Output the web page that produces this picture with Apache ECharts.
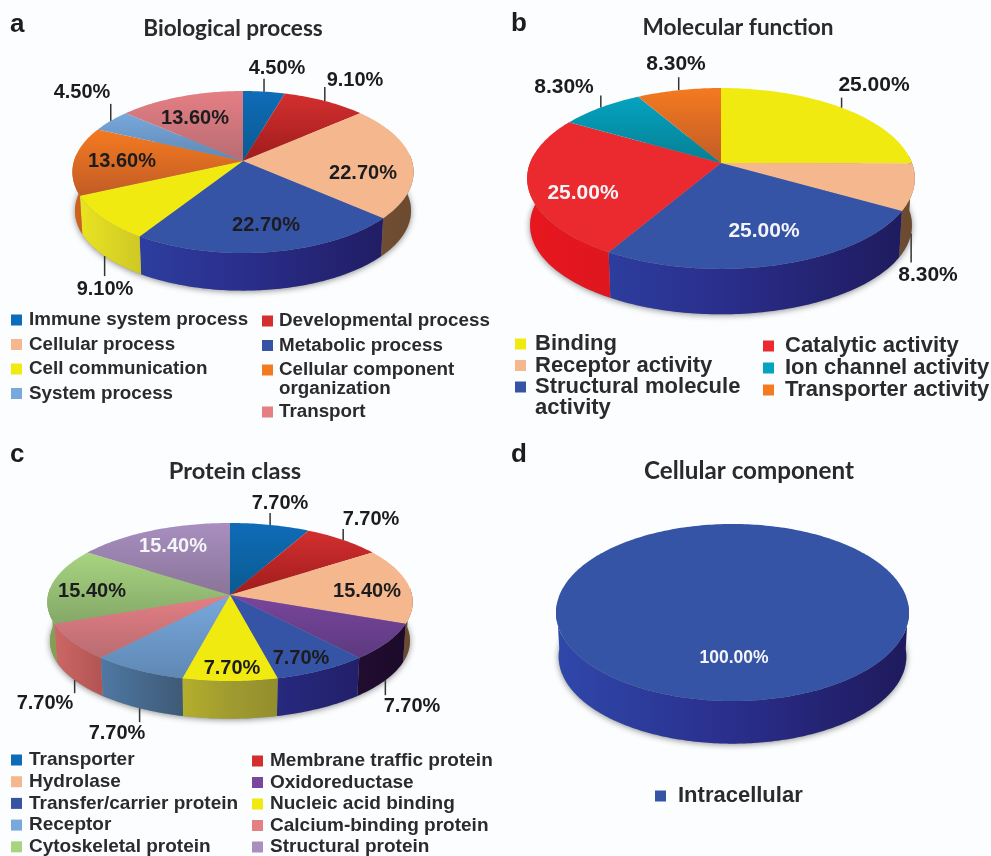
<!DOCTYPE html>
<html>
<head>
<meta charset="utf-8">
<title>Gene ontology pies</title>
<script src="https://cdn.jsdelivr.net/npm/echarts@6/dist/echarts.min.js"></script>
<style>
html,body{margin:0;padding:0;background:#fcfdfe;}
#main{width:991px;height:856px;}
</style>
</head>
<body>
<div id="main"></div>
<script type="text/javascript">
// values, clockwise from 12 o'clock
var bioNames = ['Immune system process','Developmental process','Cellular process','Metabolic process','Cell communication','Cellular component organization','System process','Transport'];
var bioValues = [4.5,9.1,22.7,22.7,9.1,13.6,4.5,13.6];
var molNames = ['Binding','Receptor activity','Structural molecule activity','Catalytic activity','Ion channel activity','Transporter activity'];
var molValues = [25,8.3,25,25,8.3,8.3];
var protNames = ['Transporter','Membrane traffic protein','Hydrolase','Oxidoreductase','Transfer/carrier protein','Nucleic acid binding','Receptor','Calcium-binding protein','Cytoskeletal protein','Structural protein'];
var protValues = [7.7,7.7,15.4,7.7,7.7,7.7,7.7,7.7,15.4,15.4];
var cellNames = ['Intracellular'];
var cellValues = [100];

// top light, top dark, wall left, wall middle, wall right
var shades = {
    ocean:['#0f6cb8','#0a5a90','#0a5a90','#084a78','#063a60'],
    brick:['#d32f2f','#a01c1c','#a01c1c','#801616','#601010'],
    peach:['#f5b88e','#f5b88e','#c89b70','#8a6040','#6b4a30'],
    blue:['#3654a6','#3654a6','#2f48aa','#2a2e8c','#1f1a5c'],
    yellow:['#f0ea10','#f0ea10','#ece620','#a09b30','#6b6820'],
    orange:['#f47a20','#c25c26','#d0601c','#b0501c','#804010'],
    sky:['#78a8dc','#5f88b4','#5a8cc0','#34485c','#2a3a4a'],
    pink:['#e47f84','#b86c72','#d06a68','#6a2020','#4a1010'],
    red:['#ea2a2e','#ea2a2e','#e8161f','#d01820','#a01018'],
    teal:['#05a3c0','#067f94','#05a3c0','#067f94','#045a6a'],
    green:['#a8d480','#84a868','#84a050','#608040','#406030'],
    lilac:['#a88fc0','#8a7498','#8a7498','#6a5878','#4a3a58'],
    violet:['#7a459c','#5c3a80','#3a2060','#2a1440','#1c0a2a']
};
var bioShades = ['ocean','brick','peach','blue','yellow','orange','sky','pink'];
var molShades = ['yellow','peach','blue','red','teal','orange'];
var protShades = ['ocean','brick','peach','violet','blue','yellow','sky','pink','green','lilac'];
var cellShades = ['blue'];

// geometry of each tilted disc: k is the perspective strength
var panels = [
    {names:bioNames, values:bioValues, shades:bioShades, cx:243, cy:161, R:169, S:79.5, k:0.136, depth:39, font:20,
     labels:[[277,68],[355,80],[363,173],[266,225],[105,289],[122,161],[82,92],[195,118]],
     leaders:[-13,-14,0,0,20,0,-17,0], white:[]},
    {names:molNames, values:molValues, shades:molShades, cx:721, cy:163, R:191, S:87.8, k:0.171, depth:47, font:21,
     labels:[[874,85],[928,275],[764,231],[583,193],[564,87],[676,64]],
     leaders:[-10,29,0,0,-12,-13], white:[2,3]},
    {names:protNames, values:protValues, shades:protShades, cx:230, cy:595, R:182, S:78.4, k:0.0886, depth:39, font:20,
     labels:[[280,503],[371,519],[367,591],[412,706],[301,658],[232,668],[117,733],[45,703],[92,591],[173,546]],
     leaders:[-12,-11,0,15,0,0,14,13,0,0], white:[9]},
    {names:cellNames, values:cellValues, shades:cellShades, cx:732.5, cy:612.5, R:176.5, S:88.5, k:0, depth:44, font:17.5,
     labels:[[734,658]], leaders:[0], white:[0]}
];
var BASE_SCALE = 0.985;

var wrapped = {
    'Cellular component organization':['Cellular component','organization'],
    'Structural molecule activity':['Structural molecule','activity']
};

function rimPoint(p, deg, lower){
    var a = deg*Math.PI/180;
    var u = Math.sin(a), v = -Math.cos(a);
    var w = 1-p.k*v;
    var s = lower ? BASE_SCALE : 1;
    return [p.cx+p.R*s*u/w, p.cy+p.S*s*v/w+(lower ? p.depth : 0)];
}
function arcPoints(p, from, to, lower){
    var pts = [], n = Math.max(2, Math.ceil(Math.abs(to-from)));
    for(var i=0;i<=n;i++){
        pts.push(rimPoint(p, from+(to-from)*i/n, lower));
    }
    return pts;
}

function makeRender(p, idx, startDeg, total){
    return function(params, api){
        var endDeg = startDeg+api.value(0)/total*360;
        var midDeg = (startDeg+endDeg)/2;
        var sh = shades[p.shades[idx]];
        var kids = [];
        // soft shadow under the first slice's disc
        if(idx===0){
            kids.push({type:'polygon', z2:0, shape:{points:arcPoints(p,0,360,true)},
                style:{fill:'#999', shadowBlur:6, shadowColor:'rgba(0,0,0,0.45)', shadowOffsetY:1}});
        }
        // wall, only the part facing the viewer
        var w0 = Math.max(startDeg,85), w1 = Math.min(endDeg,275);
        if(w1>w0){
            kids.push({type:'polygon', z2:1,
                shape:{points:arcPoints(p,w0,w1,false).concat(arcPoints(p,w1,w0,true))},
                style:{fill:{type:'linear',x:p.cx-p.R,y:0,x2:p.cx+p.R,y2:0,global:true,
                    colorStops:[{offset:0,color:sh[2]},{offset:0.5,color:sh[3]},{offset:1,color:sh[4]}]}}});
        }
        // top face
        var topPts = arcPoints(p,startDeg,endDeg,false);
        if(p.values.length>1){ topPts.push([p.cx,p.cy]); }
        kids.push({type:'polygon', z2:2, shape:{points:topPts},
            style:{fill:{type:'linear',x:0,y:0,x2:0,y2:1,
                colorStops:[{offset:0,color:sh[0]},{offset:1,color:sh[1]}]}}});
        // leader line from the rim (lower rim when in front)
        if(p.leaders[idx]){
            var front = p.leaders[idx]>0;
            var st = rimPoint(p,midDeg,front);
            kids.push({type:'line', z2:3, shape:{x1:st[0],y1:st[1],x2:st[0],y2:st[1]+p.leaders[idx]},
                style:{stroke:'#333',lineWidth:1.5}});
        }
        var lab = p.labels[idx];
        kids.push({type:'text', z2:5, x:lab[0], y:lab[1],
            style:{text:api.value(0).toFixed(2)+'%', align:'center', verticalAlign:'middle',
                fill:p.white.indexOf(idx)>=0 ? '#f4f5f8' : '#1c1c1e',
                font:'bold '+p.font+'px "Liberation Sans"'}});
        return {type:'group', children:kids};
    };
}

var series = [];
panels.forEach(function(p){
    var total = p.values.reduce(function(a,b){return a+b;},0);
    var acc = 0;
    p.values.forEach(function(val, i){
        series.push({
            type:'custom', name:p.names[i], coordinateSystem:'none', silent:true,
            itemStyle:{color:shades[p.shades[i]][0]},
            data:[[val]],
            renderItem:makeRender(p,i,acc/total*360,total)
        });
        acc += val;
    });
});

function legendCol(names, x, firstY, pitch, size, gap){
    var lh = Math.round(size)+2;
    return {
        data:names, orient:'vertical', left:x, top:firstY-lh/2, height:160, padding:0,
        itemWidth:11, itemHeight:11, itemGap:pitch-lh, selectedMode:false, icon:'rect',
        formatter:function(n){ return wrapped[n] ? wrapped[n][0] : n; },
        textStyle:{color:'#2b2b2e', fontWeight:'bold', fontFamily:'Liberation Sans', fontSize:size, lineHeight:lh, padding:[0,0,0,gap]}
    };
}

function heading(text, x, y, size){
    return {text:text, left:x, top:y, textAlign:'center', padding:0,
        textStyle:{fontFamily:'Lato', fontWeight:'bold', fontSize:size, color:'#2a2a2c'}};
}
function tag(text, x, y){
    return {text:text, left:x, top:y, padding:0,
        textStyle:{fontFamily:'Liberation Sans', fontWeight:'bold', fontSize:26, color:'#1c1c1e'}};
}

var myChart = echarts.init(document.getElementById('main'), null, {renderer:'canvas'});
myChart.setOption({
    backgroundColor:'#fcfdfe',
    animation:false,
    title:[
        tag('a',10,12), tag('b',511,11), tag('c',10,442), tag('d',511,442),
        heading('Biological process',233,17,22.6), heading('Molecular function',738,16,22.6),
        heading('Protein class',235,459,23.6), heading('Cellular component',749,459,24.2)
    ],
    legend:[
        legendCol(['Immune system process','Cellular process','Cell communication','System process'],11,320,24.5,18.8,2),
        legendCol(['Developmental process','Metabolic process','Cellular component organization'],262,321,24.5,18.8,1),
        legendCol(['Transport'],262,412,24.5,18.8,1),
        legendCol(['Binding','Receptor activity','Structural molecule activity'],515,344,21.5,22,4),
        legendCol(['Catalytic activity','Ion channel activity','Transporter activity'],763,346,22,22,6),
        legendCol(['Transporter','Hydrolase','Transfer/carrier protein','Receptor','Cytoskeletal protein'],11,760,21.7,19,2),
        legendCol(['Membrane traffic protein','Oxidoreductase','Nucleic acid binding','Calcium-binding protein','Structural protein'],252,761,21.5,19,2),
        legendCol(['Intracellular'],655,796,22,22,7)
    ],
    graphic:[
        {type:'text', left:279, top:379, style:{text:wrapped['Cellular component organization'][1], fill:'#2b2b2e', font:'bold 18.8px "Liberation Sans"'}},
        {type:'text', left:535, top:397, style:{text:wrapped['Structural molecule activity'][1], fill:'#2b2b2e', font:'bold 22px "Liberation Sans"'}}
    ],
    series:series
});
</script>
</body>
</html>
